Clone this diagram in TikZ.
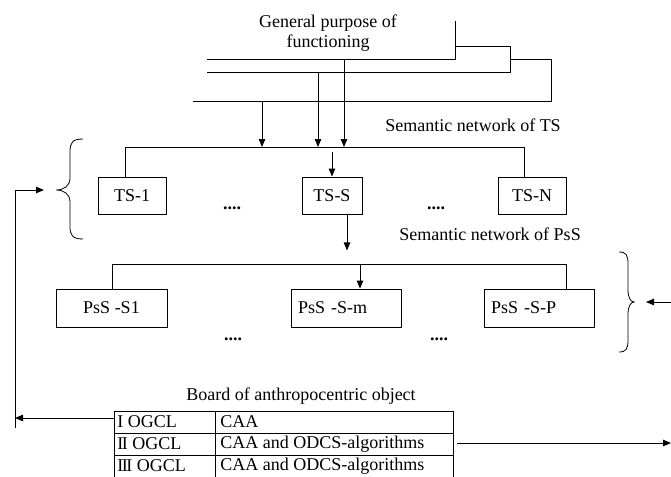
\documentclass[tikz,border=0pt]{standalone}
\usepackage{fontspec}
\setmainfont{Liberation Serif}
\usetikzlibrary{arrows.meta,positioning}

\begin{document}
\begin{tikzpicture}[x=1pt,y=-1pt,>={Triangle[length=8pt,width=6.5pt]},line width=0.9pt,
    font=\fontsize{18}{20}\selectfont,
    unit/.style={draw,inner sep=0pt,minimum height=37pt},
    pss/.style={draw,inner sep=0pt,minimum height=38pt,minimum width=110pt},
    dots/.style={anchor=base,font=\fontsize{18}{20}\selectfont\bfseries},
    cell/.style={anchor=west,inner sep=0pt}]
  \useasboundingbox (0,0) rectangle (671,476);
  \node[align=center,anchor=north,inner sep=0pt] (goal) at (328,14) {General purpose of\\functioning};
  \draw (207,59) -- (455,59) -- (455,21);
  \draw (455,46) -- (510,46) -- (510,72) -- (207,72);
  \draw (510,59) -- (551,59) -- (551,101) -- (193,101);
  \node[unit,minimum width=68pt] (ts1) at (132,195.5) {TS-1};
  \node[unit,minimum width=60pt] (tss) at (332,195.5) {TS-S};
  \node[unit,minimum width=68pt] (tsn) at (532,195.5) {TS-N};
  \coordinate (busL) at (125,147);
  \coordinate (busR) at (524,147);
  \draw (ts1.north -| busL) -- (busL) -- (busR) -- (tsn.north -| busR);
  \foreach \xx/\yy in {262/101,318/72,344/59}{
    \coordinate (g) at (\xx,\yy);
    \draw[->] (g) -- (g |- busL);
  }
  \draw[->] ([yshift=25pt]tss.north) -- (tss.north);
  \draw[->] ([xshift=15pt]tss.south) -- ++(0,36);
  \node (semts) at (473,125) {Semantic network of TS};
  \node (sempss) at (490,234) {Semantic network of PsS};
  \node[dots] (d1) at (232,209) {....};
  \node[dots] (d2) at (436,209) {....};
  \draw[line width=0.8pt] (83,139) .. controls (72,139) and (70,143) .. (70,152) -- (70,178)
    .. controls (70,186) and (64,190) .. (56,190) .. controls (64,190) and (70,194) .. (70,202)
    -- (70,226) .. controls (70,235) and (72,239) .. (83,239);
  \coordinate (back) at (15,428);
  \coordinate (tsin) at (44,190);
  \draw[->] (back) -- (back |- tsin) -- (tsin);

  \node[pss,minimum width=111pt] (pss1) at (111.5,308) {PsS -S1};
  \node[pss,text width=96pt,align=left] (pssm) at (346,308) {PsS -S-m};
  \node[pss,text width=96pt,align=left] (pssp) at (539,308) {PsS -S-P};
  \coordinate (pbL) at (112,264);
  \coordinate (pbR) at (566,264);
  \coordinate (pbM) at (360,264);
  \draw (pss1.north -| pbL) -- (pbL) -- (pbR) -- (pssp.north -| pbR);
  \draw[->] (pbM) -- (pssm.north -| pbM);
  \node[dots] (d3) at (233,340) {....};
  \node[dots] (d4) at (439,340) {....};
  \draw[line width=0.8pt] (619,252) .. controls (626,252) and (628,255) .. (628,264) -- (628,290)
    .. controls (628,298) and (631,302) .. (634,302) .. controls (631,302) and (628,306) .. (628,314)
    -- (628,340) .. controls (628,349) and (626,352) .. (619,352);
  \coordinate (pin) at (646,302);
  \coordinate (pfar) at (671,302);
  \draw[->] (pfar) -- (pin);

  \node (boardlbl) at (301,396) {Board of anthropocentric object};
  \draw (114,411) rectangle (453,478);
  \draw (114,433) -- (453,433) (114,455) -- (453,455) (215,411) -- (215,478);
  \foreach \i/\lvl/\what in {1/I/CAA,2/I\kern-1.5pt I/CAA and ODCS-algorithms,3/I\kern-1.5pt I\kern-1.5pt I/CAA and ODCS-algorithms}{
    \node[cell] (lvl\i) at (117,400+22*\i) {\lvl\ OGCL};
    \node[cell] (alg\i) at (220,400+22*\i) {\what};
  }
  \coordinate (tbl) at (114,418);
  \draw[->] (tbl) -- (tbl -| back);
  \coordinate (tbr) at (457,443);
  \coordinate (out) at (671,443);
  \draw[->] (tbr) -- (out);
\end{tikzpicture}
\end{document}
